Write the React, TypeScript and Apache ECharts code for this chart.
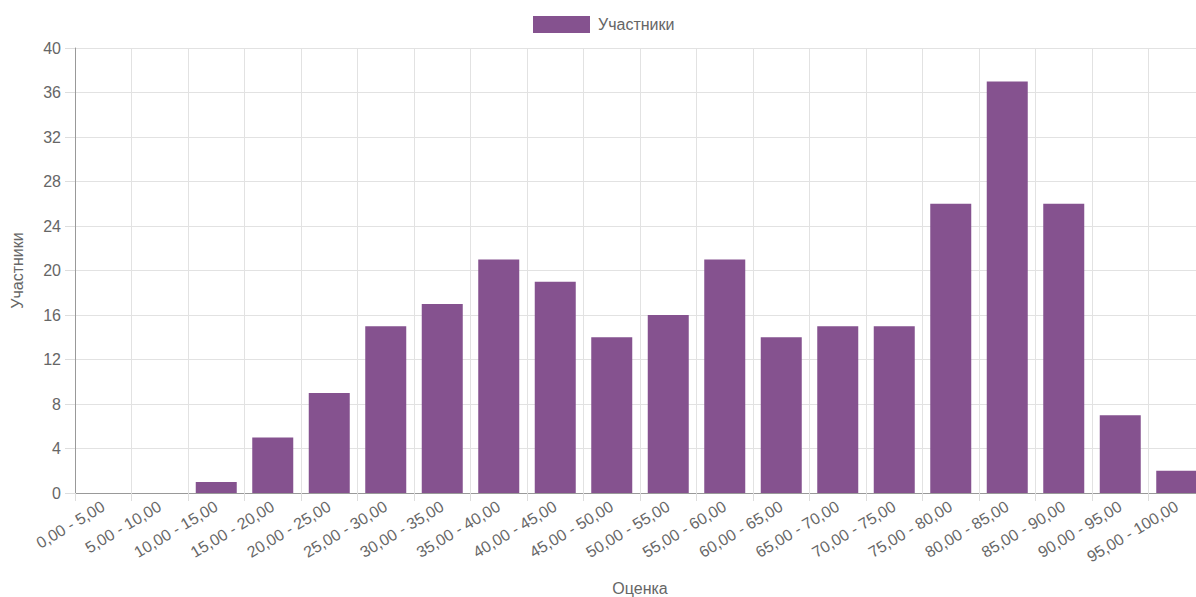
import React, { useEffect, useRef } from "react";
import * as echarts from "echarts";

const categories = [
  "0,00 - 5,00", "5,00 - 10,00", "10,00 - 15,00", "15,00 - 20,00", "20,00 - 25,00",
  "25,00 - 30,00", "30,00 - 35,00", "35,00 - 40,00", "40,00 - 45,00", "45,00 - 50,00",
  "50,00 - 55,00", "55,00 - 60,00", "60,00 - 65,00", "65,00 - 70,00", "70,00 - 75,00",
  "75,00 - 80,00", "80,00 - 85,00", "85,00 - 90,00", "90,00 - 95,00", "95,00 - 100,00",
];
const participants = [0, 0, 1, 5, 9, 15, 17, 21, 19, 14, 16, 21, 14, 15, 15, 26, 37, 26, 7, 2];
const seriesName = "Участники";
const xAxisName = "Оценка";
const yAxisName = "Участники";

const FONT = "'Liberation Sans', Arial, Helvetica, sans-serif";

export default function App() {
  const ref = useRef<HTMLDivElement>(null);
  useEffect(() => {
    if (!ref.current) return;
    const chart = echarts.init(ref.current, undefined, { renderer: "svg" });
    chart.setOption({
      animation: false,
      textStyle: { fontFamily: FONT },
      legend: {
        data: [seriesName],
        top: 16,
        left: 533,
        padding: 0,
        itemWidth: 57,
        itemHeight: 17,
        itemGap: 8,
        icon: "rect",
        textStyle: { fontSize: 16, color: "#666", fontFamily: FONT, padding: [0, 0, 0, 3] },
      },
      grid: {
        left: 75,
        right: -9,
        top: 48,
        bottom: 104,
        containLabel: false,
        outerBoundsMode: "none",
      },
      xAxis: {
        type: "category",
        data: categories,
        boundaryGap: true,
        name: xAxisName,
        nameLocation: "middle",
        nameGap: 87,
        nameTextStyle: { fontSize: 16, color: "#666", fontFamily: FONT },
        axisLine: { lineStyle: { color: "#999", width: 1 } },
        axisTick: { show: true, length: 8, interval: 0, lineStyle: { color: "#ddd" } },
        axisLabel: {
          interval: 0,
          rotate: 31,
          fontSize: 16,
          color: "#666",
          margin: 12,
          fontFamily: FONT,
        },
        splitLine: { show: true, interval: 0, lineStyle: { color: "#e2e2e2" } },
      },
      yAxis: {
        type: "value",
        min: 0,
        max: 40,
        interval: 4,
        name: yAxisName,
        nameLocation: "middle",
        nameGap: 50,
        nameTextStyle: { fontSize: 16, color: "#666", fontFamily: FONT },
        axisLine: { show: true, lineStyle: { color: "#999", width: 1 } },
        axisTick: { show: true, length: 10, lineStyle: { color: "#ddd" } },
        axisLabel: { fontSize: 16, color: "#666", margin: 14, fontFamily: FONT },
        splitLine: { show: true, lineStyle: { color: "#e2e2e2" } },
      },
      series: [
        {
          name: seriesName,
          type: "bar",
          data: participants,
          barWidth: 41,
          itemStyle: { color: "#85528f", borderWidth: 0 },
        },
      ],
    });
    return () => chart.dispose();
  }, []);
  return (
    <div
      ref={ref}
      style={{ position: "fixed", left: 0, top: 0, width: 1196, height: 597, background: "#fff" }}
    />
  );
}
